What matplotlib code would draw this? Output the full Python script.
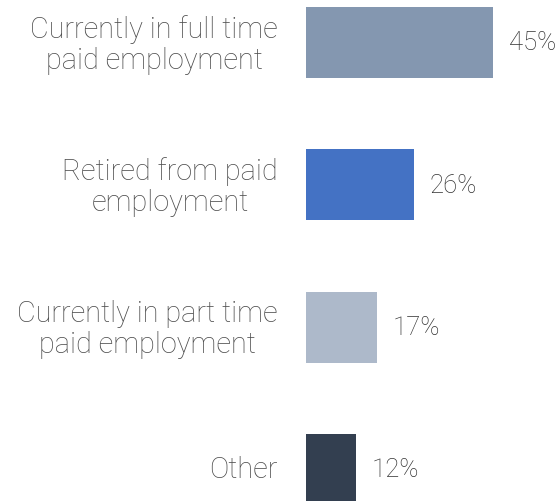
import matplotlib
matplotlib.use("Agg")
import matplotlib.pyplot as plt
from matplotlib.transforms import ScaledTranslation

categories = [
    "Currently in full time\npaid employment",
    "Retired from paid\nemployment",
    "Currently in part time\npaid employment",
    "Other",
]
values = [45, 26, 17, 12]
colors = ["#8497B0", "#4472C4", "#ADB9CA", "#333F50"]

plt.rcParams["font.family"] = ["Roboto", "DejaVu Sans"]

W, H, DPI = 560, 502, 100
fig = plt.figure(figsize=(W / DPI, H / DPI), dpi=DPI)
left = 306 / W
ax = fig.add_axes([left, 0, 1 - left, 1])

pitch = 142.3
first = 43.5
ax.set_ylim((H - first) / pitch, -first / pitch)
ax.set_xlim(0, (W - 306) / 4.15)

pos = list(range(len(values)))
ax.barh(pos, values, height=0.5, color=colors)

for p, v in zip(pos, values):
    ax.annotate(f"{v}%", (v, p), xytext=(16 * 0.72, 0), textcoords="offset points",
                va="center", ha="left", fontsize=18.5, color="#333333",
                fontweight="light")

ax.set_yticks(pos)
ax.set_yticklabels(categories, fontsize=20.8, color="#4d4d4d", multialignment="center",
                   linespacing=1.12, fontweight="light")
ax.tick_params(axis="y", length=0, pad=28 * 0.72)
ax.set_xticks([])
for s in ax.spines.values():
    s.set_visible(False)

# nudge the category labels up slightly so each block sits centred on its bar
shift = ScaledTranslation(0, 3 / DPI, fig.dpi_scale_trans)
for lbl in ax.get_yticklabels():
    lbl.set_transform(lbl.get_transform() + shift)

fig.savefig("out.png", dpi=DPI)
